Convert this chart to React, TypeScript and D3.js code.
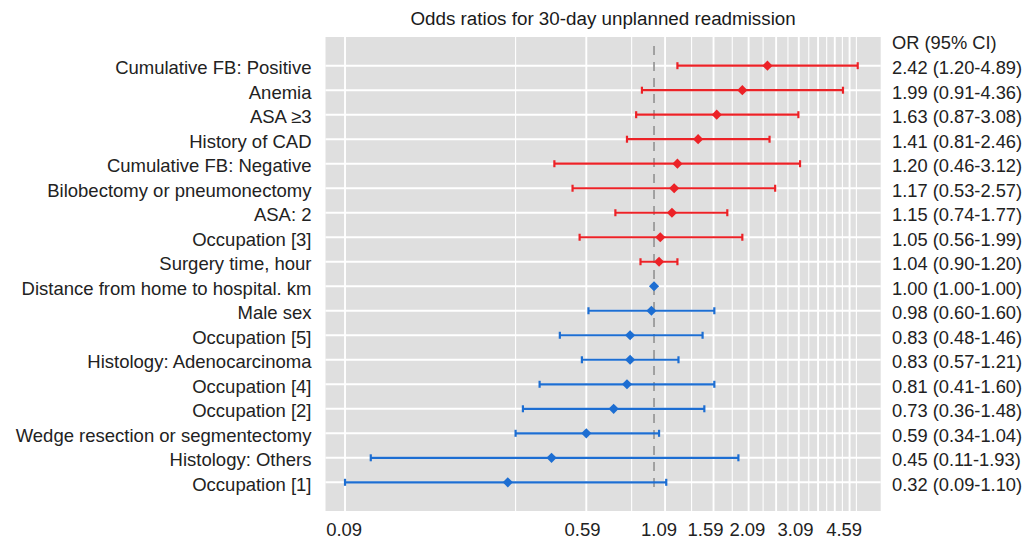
import React from "react";
import * as d3 from "d3";

const labels = [
  "Cumulative FB: Positive",
  "Anemia",
  "ASA \u22653",
  "History of CAD",
  "Cumulative FB: Negative",
  "Bilobectomy or pneumonectomy",
  "ASA: 2",
  "Occupation [3]",
  "Surgery time, hour",
  "Distance from home to hospital. km",
  "Male sex",
  "Occupation [5]",
  "Histology: Adenocarcinoma",
  "Occupation [4]",
  "Occupation [2]",
  "Wedge resection or segmentectomy",
  "Histology: Others",
  "Occupation [1]",
];
const orValues = [2.42, 1.99, 1.63, 1.41, 1.2, 1.17, 1.15, 1.05, 1.04, 1.0, 0.98, 0.83, 0.83, 0.81, 0.73, 0.59, 0.45, 0.32];
const lowerCI = [1.2, 0.91, 0.87, 0.81, 0.46, 0.53, 0.74, 0.56, 0.9, 1.0, 0.6, 0.48, 0.57, 0.41, 0.36, 0.34, 0.11, 0.09];
const upperCI = [4.89, 4.36, 3.08, 2.46, 3.12, 2.57, 1.77, 1.99, 1.2, 1.0, 1.6, 1.46, 1.21, 1.6, 1.48, 1.04, 1.93, 1.1];

const majorBreaks = [0.09, 0.59, 1.09, 1.59, 2.09, 2.59, 3.09, 3.59, 4.09, 4.59];
const minorBreaks = [0.34, 0.84, 1.34, 1.84, 2.34, 2.84, 3.34, 3.84, 4.34, 4.84];
const tickLabels = ["0.09", "0.59", "1.09", "1.59", "2.09", "3.09", "4.59"];
// where each tick label sits along the (log) OR axis
const tickLabelAt = [0.0894, 0.573, 1.04, 1.494, 2.07, 3.013, 4.4];
const axisLimits = [0.0773, 5.85];

const title = "Odds ratios for 30-day unplanned readmission";
const header = "OR (95% CI)";

const W = 1026;
const H = 539;
const panel = { left: 325.5, right: 880.7, top: 37, bottom: 511 };
const RED = "#EC2227";
const BLUE = "#1D6ED2";
const FONT = "'Liberation Sans', Arial, Helvetica, sans-serif";

export default function App() {
  const x = d3.scaleLog().domain(axisLimits).range([panel.left, panel.right]);
  const y = d3.scalePoint<string>().domain(labels).range([65.7, 482.3]);
  const step = y.step();
  const diamond = d3.symbol().type(d3.symbolSquare).size(52)();
  const fmt = d3.format(".2f");

  return (
    <svg width={W} height={H} style={{ position: "absolute", left: 0, top: 0 }} fontFamily={FONT}>
      <rect x={0} y={0} width={W} height={H} fill="#ffffff" />
      <text x={(panel.left + panel.right) / 2} y={24.5} textAnchor="middle" fontSize={18.8} fill="#1a1a1a">
        {title}
      </text>
      <rect
        x={panel.left}
        y={panel.top}
        width={panel.right - panel.left}
        height={panel.bottom - panel.top}
        fill="#DFDFDF"
      />
      {minorBreaks.map((b) => (
        <line key={"mi" + b} x1={x(b)} x2={x(b)} y1={panel.top} y2={panel.bottom} stroke="#fff" strokeWidth={1.1} />
      ))}
      {majorBreaks.map((b) => (
        <line key={"ma" + b} x1={x(b)} x2={x(b)} y1={panel.top} y2={panel.bottom} stroke="#fff" strokeWidth={1.9} />
      ))}
      {labels.map((l) => (
        <line key={"h" + l} x1={panel.left} x2={panel.right} y1={y(l)} y2={y(l)} stroke="#fff" strokeWidth={2} />
      ))}
      <line
        x1={x(1)}
        x2={x(1)}
        y1={(y(labels[0]) as number) - step * 0.8}
        y2={(y(labels[labels.length - 1]) as number) + step * 0.4}
        stroke="#9a9a9a"
        strokeWidth={1.8}
        strokeDasharray="9 7"
      />
      {labels.map((l, i) => {
        const cy = y(l) as number;
        const col = orValues[i] > 1 ? RED : BLUE;
        const x1 = x(lowerCI[i]);
        const x2 = x(upperCI[i]);
        return (
          <g key={"m" + l}>
            <line x1={x1} x2={x2} y1={cy} y2={cy} stroke={col} strokeWidth={2.2} />
            <line x1={x1} x2={x1} y1={cy - 3.5} y2={cy + 3.5} stroke={col} strokeWidth={2.2} />
            <line x1={x2} x2={x2} y1={cy - 3.5} y2={cy + 3.5} stroke={col} strokeWidth={2.2} />
            <path d={diamond as string} transform={`translate(${x(orValues[i])},${cy}) rotate(45)`} fill={col} />
          </g>
        );
      })}
      {labels.map((l) => (
        <text key={"yl" + l} x={311.5} y={(y(l) as number) + 8.3} textAnchor="end" fontSize={18.5} fill="#222">
          {l}
        </text>
      ))}
      <text x={892} y={(y(labels[0]) as number) - step + 8.3} fontSize={18.3} fill="#222">
        {header}
      </text>
      {labels.map((l, i) => (
        <text key={"r" + l} x={892} y={(y(l) as number) + 8.3} fontSize={18.3} fill="#222">
          {`${fmt(orValues[i])} (${fmt(lowerCI[i])}-${fmt(upperCI[i])})`}
        </text>
      ))}
      {tickLabels.map((t, i) => (
        <text key={"t" + t} x={x(tickLabelAt[i])} y={535.5} textAnchor="middle" fontSize={18.5} fill="#222">
          {t}
        </text>
      ))}
    </svg>
  );
}
